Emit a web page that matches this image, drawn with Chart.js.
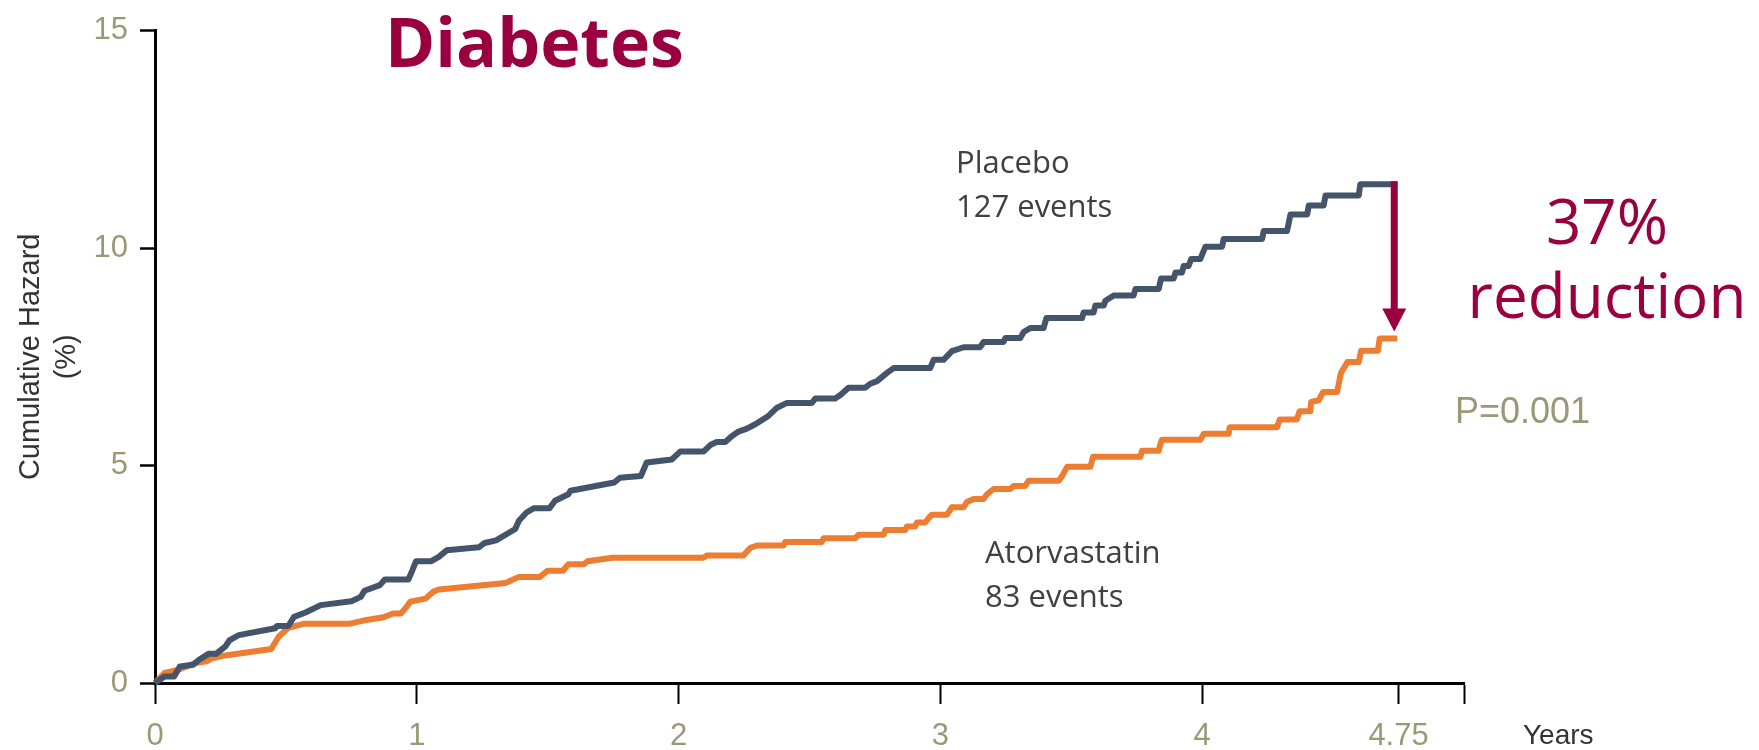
<!DOCTYPE html>
<html>
<head>
<meta charset="utf-8">
<title>Diabetes – cumulative hazard</title>
<script src="https://cdn.jsdelivr.net/npm/chart.js@4.4.1/dist/chart.umd.min.js"></script>
<style>
    html, body { margin: 0; padding: 0; background: #fff; }
    #wrap { width: 1759px; height: 750px; position: relative; }
</style>
</head>
<body>
<div id="wrap"><canvas id="hazardChart"></canvas></div>
<script>
'use strict';

// ── Data: time in years, cumulative hazard in % ─────────────
const placeboYears = [0, 0.036, 0.073, 0.095, 0.146, 0.167, 0.204, 0.233, 0.269, 0.284, 0.32, 0.459, 0.466, 0.509, 0.531, 0.575, 0.633, 0.75, 0.786, 0.80, 0.859, 0.878, 0.968, 0.983, 0.997, 1.055, 1.084, 1.114, 1.237, 1.259, 1.303, 1.376, 1.39, 1.419, 1.448, 1.507, 1.528, 1.579, 1.587, 1.754, 1.776, 1.856, 1.878, 1.974, 2.006, 2.095, 2.121, 2.146, 2.178, 2.204, 2.229, 2.261, 2.293, 2.343, 2.376, 2.414, 2.509, 2.522, 2.598, 2.618, 2.649, 2.713, 2.732, 2.758, 2.796, 2.821, 2.961, 2.974, 3.012, 3.044, 3.089, 3.152, 3.165, 3.241, 3.248, 3.305, 3.318, 3.343, 3.394, 3.405, 3.541, 3.547, 3.585, 3.592, 3.624, 3.63, 3.662, 3.738, 3.745, 3.834, 3.843, 3.891, 3.898, 3.923, 3.929, 3.948, 3.958, 3.993, 4.012, 4.076, 4.082, 4.229, 4.235, 4.324, 4.331, 4.337, 4.401, 4.407, 4.464, 4.471, 4.598, 4.604, 4.745];
const placeboHazard = [0, 0.15, 0.15, 0.38, 0.42, 0.53, 0.67, 0.67, 0.84, 0.98, 1.10, 1.26, 1.31, 1.31, 1.52, 1.62, 1.79, 1.88, 1.98, 2.12, 2.25, 2.38, 2.38, 2.59, 2.80, 2.80, 2.90, 3.05, 3.12, 3.22, 3.28, 3.54, 3.73, 3.92, 4.02, 4.02, 4.19, 4.34, 4.42, 4.61, 4.72, 4.76, 5.07, 5.14, 5.32, 5.32, 5.47, 5.54, 5.54, 5.68, 5.78, 5.85, 5.95, 6.14, 6.33, 6.44, 6.44, 6.54, 6.54, 6.62, 6.79, 6.79, 6.88, 6.94, 7.13, 7.24, 7.24, 7.43, 7.43, 7.63, 7.72, 7.72, 7.84, 7.84, 7.93, 7.93, 8.07, 8.16, 8.16, 8.39, 8.39, 8.52, 8.52, 8.68, 8.68, 8.79, 8.91, 8.91, 9.06, 9.06, 9.30, 9.30, 9.44, 9.44, 9.59, 9.59, 9.75, 9.75, 10.03, 10.03, 10.21, 10.21, 10.39, 10.39, 10.59, 10.77, 10.77, 10.98, 10.98, 11.21, 11.21, 11.47, 11.47];

const atorvaYears = [0, 0.036, 0.087, 0.153, 0.197, 0.218, 0.255, 0.444, 0.473, 0.509, 0.568, 0.742, 0.808, 0.873, 0.91, 0.939, 0.961, 0.975, 1.033, 1.063, 1.084, 1.339, 1.39, 1.47, 1.499, 1.558, 1.579, 1.638, 1.652, 1.747, 2.095, 2.108, 2.248, 2.274, 2.299, 2.401, 2.407, 2.547, 2.554, 2.675, 2.688, 2.783, 2.790, 2.866, 2.872, 2.904, 2.910, 2.942, 2.955, 2.968, 3.025, 3.044, 3.089, 3.101, 3.127, 3.165, 3.178, 3.203, 3.267, 3.280, 3.324, 3.337, 3.452, 3.465, 3.484, 3.573, 3.583, 3.764, 3.770, 3.834, 3.840, 3.846, 3.993, 4.006, 4.101, 4.105, 4.286, 4.296, 4.362, 4.372, 4.413, 4.416, 4.445, 4.462, 4.515, 4.521, 4.530, 4.555, 4.598, 4.607, 4.671, 4.678, 4.745];
const atorvaHazard = [0, 0.23, 0.30, 0.46, 0.50, 0.57, 0.62, 0.78, 1.07, 1.27, 1.36, 1.36, 1.45, 1.51, 1.60, 1.60, 1.75, 1.87, 1.94, 2.10, 2.15, 2.30, 2.44, 2.44, 2.58, 2.58, 2.73, 2.73, 2.80, 2.88, 2.88, 2.93, 2.93, 3.11, 3.16, 3.16, 3.24, 3.24, 3.33, 3.33, 3.41, 3.41, 3.52, 3.52, 3.60, 3.60, 3.69, 3.69, 3.79, 3.87, 3.87, 4.04, 4.04, 4.16, 4.23, 4.23, 4.34, 4.46, 4.46, 4.53, 4.53, 4.65, 4.65, 4.76, 4.97, 4.97, 5.20, 5.20, 5.34, 5.34, 5.49, 5.59, 5.59, 5.73, 5.73, 5.88, 5.88, 6.06, 6.06, 6.25, 6.25, 6.46, 6.50, 6.69, 6.69, 6.86, 7.13, 7.38, 7.38, 7.64, 7.64, 7.92, 7.92];

const xTickValues = [0, 1, 2, 3, 4, 4.75, 5];
const xTickLabels = ['0', '1', '2', '3', '4', '4.75', ''];
const yTickValues = [0, 5, 10, 15];

// ── Styling ─────────────────────────────────────────────────
const MAROON = '#9a0040';
const OLIVE = '#9b9878';
const TEXT = '#404040';
const PLACEBO_COLOR = '#44546a';
const ATORVA_COLOR = '#ed7d31';

const toPoints = (xs, ys) => xs.map((v, i) => ({ x: v, y: ys[i] }));

// Headline, group labels, p-value and the reduction arrow
const annotations = {
    id: 'annotations',
    afterDraw(chart) {
        const { ctx, scales: { x, y } } = chart;
        ctx.save();
        ctx.textAlign = 'left';
        ctx.textBaseline = 'alphabetic';

        ctx.fillStyle = MAROON;
        ctx.font = '700 68px "Open Sans"';
        ctx.fillText('Diabetes', 385, 67);

        ctx.fillStyle = TEXT;
        ctx.font = '31px "Open Sans"';
        ctx.fillText('Placebo', 956, 173);
        ctx.fillText('127 events', 956, 217);
        ctx.fillText('Atorvastatin', 985, 563);
        ctx.fillText('83 events', 985, 607);

        ctx.fillStyle = MAROON;
        ctx.textAlign = 'center';
        ctx.font = '62px "Open Sans"';
        ctx.fillText('37%', 1607, 244);
        ctx.fillText('reduction', 1607, 318);

        ctx.textAlign = 'left';
        ctx.fillStyle = OLIVE;
        ctx.font = '36px "Liberation Sans"';
        ctx.fillText('P=0.001', 1455, 423);

        ctx.fillStyle = '#333';
        ctx.font = '28px "Liberation Sans"';
        ctx.textBaseline = 'middle';
        ctx.fillText('Years', 1523, 736);

        // arrow from the placebo end value down to the atorvastatin end value
        const ax = x.getPixelForValue(placeboYears[placeboYears.length - 1]) - 3;
        const yFrom = y.getPixelForValue(placeboHazard[placeboHazard.length - 1]);
        const yTip = y.getPixelForValue(atorvaHazard[atorvaHazard.length - 1]) - 7;
        const head = 23;
        ctx.strokeStyle = MAROON;
        ctx.fillStyle = MAROON;
        ctx.lineWidth = 7;
        ctx.beginPath();
        ctx.moveTo(ax, yFrom - 3);
        ctx.lineTo(ax, yTip - head + 1);
        ctx.stroke();
        ctx.beginPath();
        ctx.moveTo(ax - 12, yTip - head);
        ctx.lineTo(ax + 12, yTip - head);
        ctx.lineTo(ax, yTip);
        ctx.closePath();
        ctx.fill();
        ctx.restore();
    }
};

const lineStyle = {
    showLine: true,
    borderWidth: 6,
    pointRadius: 0,
    pointHoverRadius: 0,
    tension: 0,
    fill: false,
    clip: false,
    borderJoinStyle: 'round',
};

const chartConfig = {
    type: 'scatter',
    data: {
        datasets: [
            {
                label: 'Placebo',
                data: toPoints(placeboYears, placeboHazard),
                borderColor: PLACEBO_COLOR,
                backgroundColor: PLACEBO_COLOR,
                ...lineStyle,
            },
            {
                label: 'Atorvastatin',
                data: toPoints(atorvaYears, atorvaHazard),
                borderColor: ATORVA_COLOR,
                backgroundColor: ATORVA_COLOR,
                ...lineStyle,
            },
        ],
    },
    options: {
        responsive: true,
        maintainAspectRatio: false,
        animation: false,
        events: [],
        layout: {
            padding: { left: 0, top: 28, right: 295, bottom: 0 },
        },
        plugins: {
            legend: { display: false },
            tooltip: { enabled: false },
        },
        scales: {
            x: {
                type: 'linear',
                min: 0,
                max: 5,
                afterBuildTicks: (scale) => {
                    scale.ticks = xTickValues.map(v => ({ value: v }));
                },
                afterFit: (scale) => { scale.height = 67; },
                border: { display: true, color: '#000', width: 3 },
                grid: {
                    drawOnChartArea: false,
                    tickLength: 21,
                    tickWidth: 2,
                    tickColor: '#000',
                },
                ticks: {
                    color: OLIVE,
                    padding: 14,
                    maxRotation: 0,
                    autoSkip: false,
                    font: { family: 'Liberation Sans', size: 31 },
                    callback: (value) => {
                        const i = xTickValues.indexOf(value);
                        return i >= 0 ? xTickLabels[i] : '';
                    },
                },
            },
            y: {
                type: 'linear',
                min: 0,
                max: 15,
                afterBuildTicks: (scale) => {
                    scale.ticks = yTickValues.map(v => ({ value: v }));
                },
                afterFit: (scale) => { scale.width = 155; },
                border: { display: true, color: '#000', width: 3 },
                grid: {
                    drawOnChartArea: false,
                    tickLength: 15,
                    tickWidth: 2.5,
                    tickColor: '#000',
                },
                ticks: {
                    color: OLIVE,
                    padding: 12,
                    font: { family: 'Liberation Sans', size: 31 },
                },
                title: {
                    display: true,
                    text: ['Cumulative Hazard', '(%)'],
                    color: '#333',
                    padding: { top: 13, bottom: 0 },
                    font: { family: 'Liberation Sans', size: 29, lineHeight: 1.25 },
                },
            },
        },
    },
    plugins: [annotations],
};

const canvas = document.getElementById('hazardChart');
try {
    new Chart(canvas, chartConfig);
} catch (err) {
    console.error('Error creating Chart.js instance:', err);
}
</script>
</body>
</html>
